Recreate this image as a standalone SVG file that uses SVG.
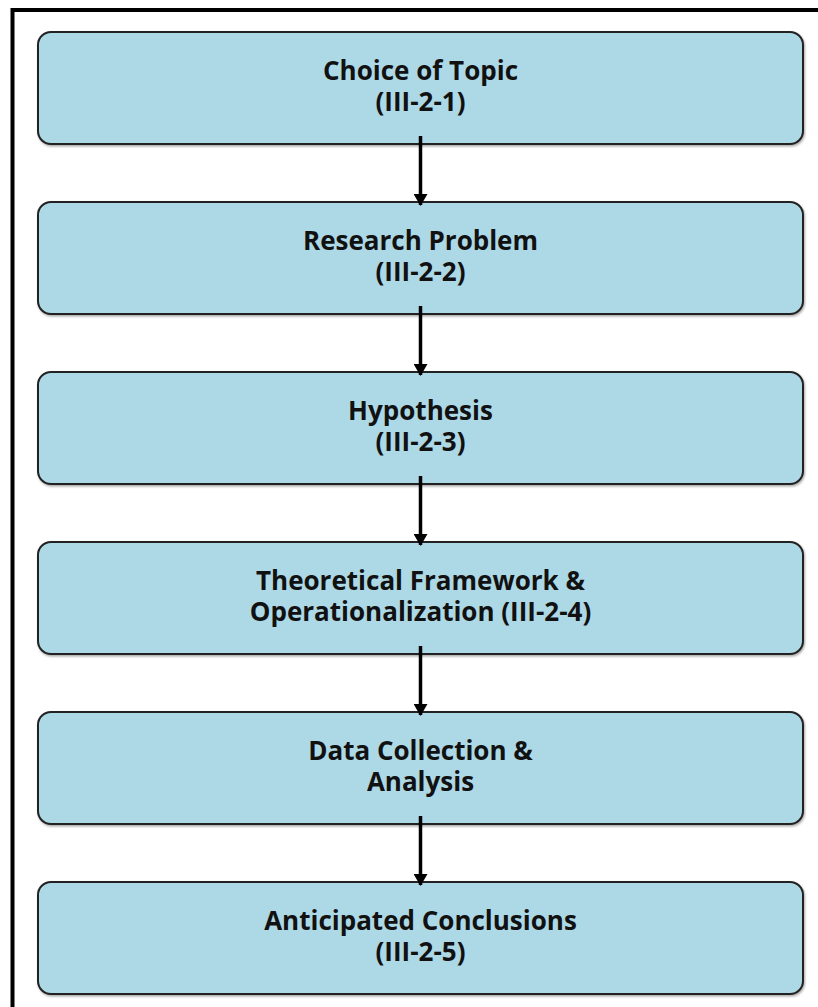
<svg xmlns="http://www.w3.org/2000/svg" width="818" height="1007" viewBox="0 0 818 1007">
  <defs>
    <marker id="arrowhead" markerWidth="12" markerHeight="14" refX="11" refY="7" orient="auto" markerUnits="userSpaceOnUse" viewBox="0 0 12 14">
      <path d="M0,0 L12,7 L0,14 Z" fill="#000"/>
    </marker>
    <filter id="shadow" x="-5%" y="-5%" width="110%" height="115%">
      <feDropShadow dx="1" dy="1.5" stdDeviation="1" flood-color="#000" flood-opacity="0.35"/>
    </filter>
  </defs>
  <style>
    .frame { fill: none; stroke: #000; stroke-width: 4; }
    .box { fill: #ADD8E6; stroke: #222; stroke-width: 2; filter: url(#shadow); }
    .label { font-family: "Open Sans", "Noto Sans", sans-serif; font-weight: 700; font-size: 26px; fill: #111; text-anchor: middle; }
    .conn { stroke: #000; stroke-width: 3.5; fill: none; marker-end: url(#arrowhead); }
  </style>
  <rect width="818" height="1007" fill="#fff"/>
  <!-- outer frame, running off the right and bottom edges -->
  <path class="frame" d="M12.5,1007 V10 H818"/>

  <g id="node-topic">
    <rect class="box" x="38" y="32" width="765" height="112" rx="13"/>
    <text class="label" x="420.5" y="79.5">Choice of Topic</text>
    <text class="label" x="420.5" y="111">(III-2-1)</text>
  </g>
  <g id="node-problem">
    <rect class="box" x="38" y="202" width="765" height="112" rx="13"/>
    <text class="label" x="420.5" y="249.5">Research Problem</text>
    <text class="label" x="420.5" y="281">(III-2-2)</text>
  </g>
  <g id="node-hypothesis">
    <rect class="box" x="38" y="372" width="765" height="112" rx="13"/>
    <text class="label" x="420.5" y="419.5">Hypothesis</text>
    <text class="label" x="420.5" y="451">(III-2-3)</text>
  </g>
  <g id="node-framework">
    <rect class="box" x="38" y="542" width="765" height="112" rx="13"/>
    <text class="label" x="420.5" y="589.5">Theoretical Framework &amp;</text>
    <text class="label" x="420.5" y="621">Operationalization (III-2-4)</text>
  </g>
  <g id="node-data">
    <rect class="box" x="38" y="712" width="765" height="112" rx="13"/>
    <text class="label" x="420.5" y="759.5">Data Collection &amp;</text>
    <text class="label" x="420.5" y="791">Analysis</text>
  </g>
  <g id="node-conclusions">
    <rect class="box" x="38" y="882" width="765" height="112" rx="13"/>
    <text class="label" x="420.5" y="929.5">Anticipated Conclusions</text>
    <text class="label" x="420.5" y="961">(III-2-5)</text>
  </g>

  <g id="connectors">
    <line class="conn" x1="420.5" y1="136" x2="420.5" y2="205"/>
    <line class="conn" x1="420.5" y1="306" x2="420.5" y2="375"/>
    <line class="conn" x1="420.5" y1="476" x2="420.5" y2="545"/>
    <line class="conn" x1="420.5" y1="646" x2="420.5" y2="715"/>
    <line class="conn" x1="420.5" y1="816" x2="420.5" y2="885"/>
  </g>
</svg>
